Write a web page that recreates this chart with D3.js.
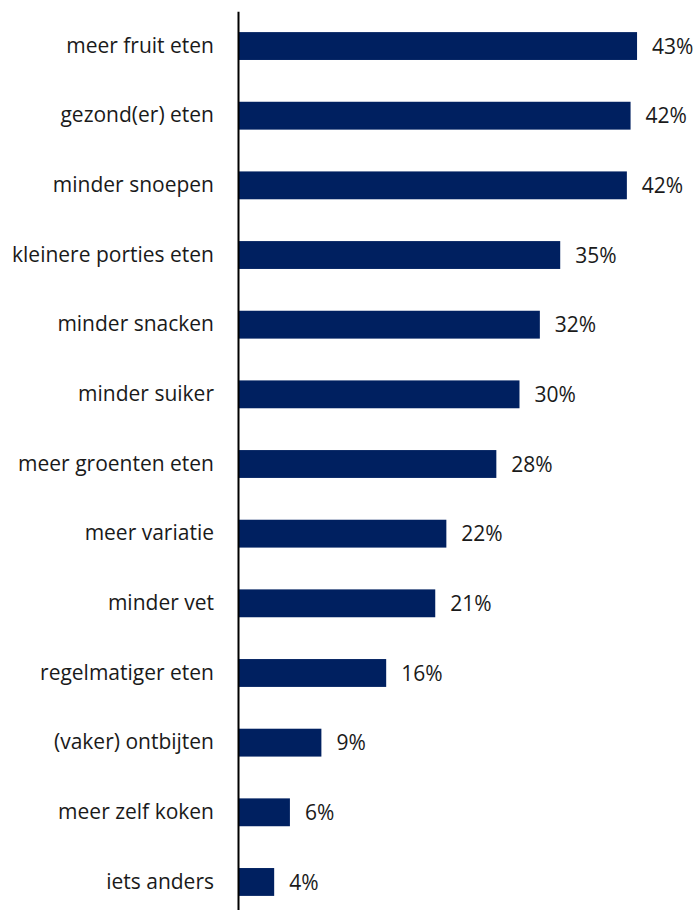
<!DOCTYPE html>
<html>
<head>
<meta charset="utf-8">
<script src="https://cdn.jsdelivr.net/npm/d3@7"></script>
<style>
  body { margin: 0; background: #fff; }
  text { font-family: "Open Sans", sans-serif; fill: #1a1a1a; }
</style>
</head>
<body>
<div id="chart"></div>
<script>
// data
var categories = ["meer fruit eten", "gezond(er) eten", "minder snoepen", "kleinere porties eten",
  "minder snacken", "minder suiker", "meer groenten eten", "meer variatie", "minder vet",
  "regelmatiger eten", "(vaker) ontbijten", "meer zelf koken", "iets anders"];
var values = [43.0, 42.3, 41.9, 34.7, 32.5, 30.3, 27.8, 22.4, 21.2, 15.9, 8.9, 5.5, 3.8];
var valueLabels = ["43%", "42%", "42%", "35%", "32%", "30%", "28%", "22%", "21%", "16%", "9%", "6%", "4%"];

var data = categories.map(function(c, i) {
  return { name: c, value: values[i], label: valueLabels[i] };
});

var margin = { left: 239 },
    width = 697, height = 910;

var x = d3.scaleLinear()
    .domain([0, 50])
    .range([margin.left, margin.left + 50 * 9.257]);

var y = d3.scaleBand()
    .domain(categories)
    .range([11.2, 916.8])
    .paddingInner(0.6)
    .paddingOuter(0.3);

var svg = d3.select("#chart")
  .append("svg")
    .attr("width", width)
    .attr("height", height);

// bars
svg.selectAll(".bar")
    .data(data)
  .enter().append("rect")
    .attr("class", "bar")
    .attr("x", x(0))
    .attr("y", function(d) { return y(d.name); })
    .attr("width", function(d) { return x(d.value) - x(0); })
    .attr("height", y.bandwidth())
    .attr("fill", "#002060");

// value labels
svg.selectAll(".val")
    .data(data)
  .enter().append("text")
    .attr("class", "val")
    .attr("x", function(d) { return x(d.value) + 15; })
    .attr("y", function(d) { return y(d.name) + y.bandwidth() / 2; })
    .attr("dy", "0.36em")
    .style("font-size", "21px")
    .text(function(d) { return d.label; });

// category axis
var yAxis = svg.append("g")
    .attr("transform", "translate(" + (margin.left - 1) + ",0)")
    .call(d3.axisLeft(y).tickSize(0).tickPadding(24).tickSizeOuter(0));

yAxis.select(".domain")
    .attr("stroke", "#000")
    .attr("stroke-width", 2);

yAxis.selectAll("text")
    .style("font-family", "Open Sans, sans-serif")
    .style("font-size", "21px")
    .attr("fill", "#1a1a1a");
</script>
</body>
</html>
